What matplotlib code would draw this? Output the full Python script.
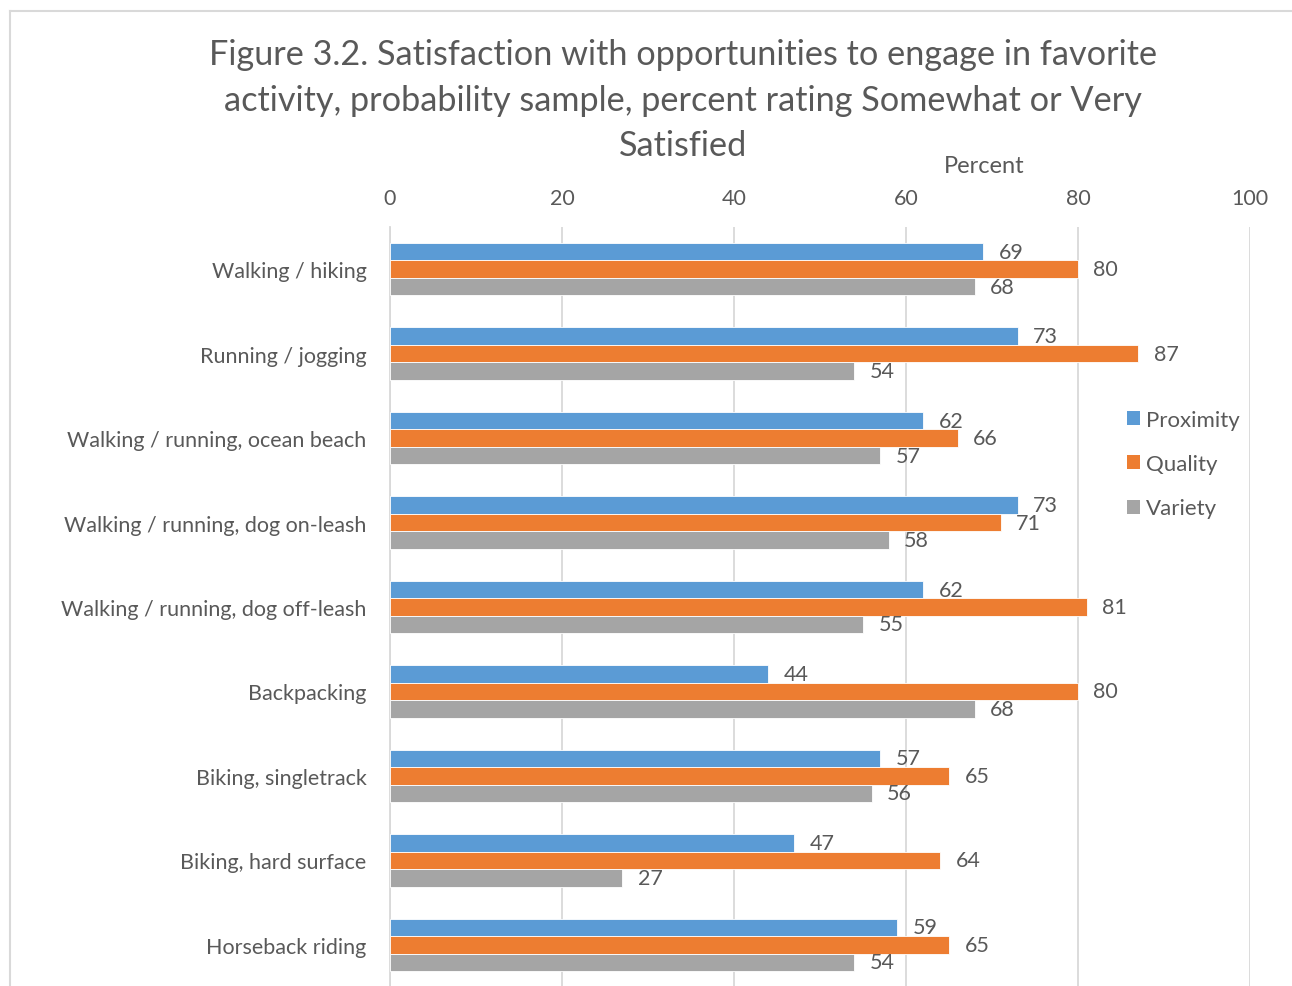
import numpy as np
import matplotlib.pyplot as plt
from matplotlib.lines import Line2D
from matplotlib.patches import Patch

plt.rcParams["font.family"] = ["Lato", "DejaVu Sans"]

# ── Dados ────────────────────────────────────────────────────────────────────
categorias = [
    "Walking / hiking",
    "Running / jogging",
    "Walking / running, ocean beach",
    "Walking / running, dog on-leash",
    "Walking / running, dog off-leash",
    "Backpacking",
    "Biking, singletrack",
    "Biking, hard surface",
    "Horseback riding",
]
proximity = [69, 73, 62, 73, 62, 44, 57, 47, 59]
quality = [80, 87, 66, 71, 81, 80, 65, 64, 65]
variety = [68, 54, 57, 58, 55, 68, 56, 27, 54]
series_nomes = ["Proximity", "Quality", "Variety"]
ticks_x = [0, 20, 40, 60, 80, 100]
titulo = [
    "Figure 3.2. Satisfaction with opportunities to engage in favorite",
    "activity, probability sample, percent rating Somewhat or Very",
    "Satisfied",
]

CORES = ["#5B9BD5", "#ED7D31", "#A5A5A5"]
TEXTO = "#595959"
GRADE = "#D9D9D9"

fig = plt.figure(figsize=(12.92, 9.87), dpi=100)
ax = fig.add_axes([390 / 1292, -1 / 987, 860 / 1292, 760 / 987])

y = np.arange(len(categorias))
h = 0.207
for i, (vals, cor) in enumerate(zip([proximity, quality, variety], CORES)):
    pos = y + (i - 1) * h
    ax.barh(pos, vals, height=h, color=cor, edgecolor="white", linewidth=0.6, zorder=3)
    for p, v in zip(pos, vals):
        ax.text(v + 1.8, p, f"{v}", va="center", ha="left", fontsize=15.5, color=TEXTO)

ax.set_xlim(0, 100)
ax.set_ylim(len(categorias) - 0.5, -0.5)
ax.set_xticks(ticks_x)
ax.set_yticks(y)
ax.set_yticklabels(categorias)
ax.xaxis.tick_top()
ax.tick_params(axis="both", length=0, labelsize=15.5, labelcolor=TEXTO)
ax.tick_params(axis="x", pad=14)
ax.tick_params(axis="y", pad=17)
ax.grid(axis="x", color=GRADE, linewidth=1.3, zorder=0)
for s in ["top", "right", "bottom"]:
    ax.spines[s].set_visible(False)
ax.spines["left"].set_color(GRADE)
ax.spines["left"].set_linewidth(1.3)

fig.text(984 / 1292, 1 - 167 / 987, "Percent", ha="center", va="center",
         fontsize=17, color=TEXTO)

# título em três linhas separadas
for ypix, linha in zip([55, 101, 146], titulo):
    fig.text(683 / 1292, 1 - ypix / 987, linha, ha="center", va="center",
             fontsize=24.7, color=TEXTO)

handles = [Patch(facecolor=c, edgecolor="none") for c in CORES]
fig.legend(handles, series_nomes, loc="center left",
           bbox_to_anchor=(1118 / 1292, 1 - 465 / 987), frameon=False,
           fontsize=16, labelcolor=TEXTO, handlelength=0.6, handleheight=0.6,
           handletextpad=0.25, labelspacing=1.1, borderaxespad=0)

# moldura do gráfico (cortada à direita e embaixo)
fig.add_artist(Line2D([10 / 1292, 10 / 1292], [0, 1 - 12 / 987],
                      transform=fig.transFigure, color=GRADE, linewidth=1.5))
fig.add_artist(Line2D([10 / 1292, 1], [1 - 12 / 987, 1 - 12 / 987],
                      transform=fig.transFigure, color=GRADE, linewidth=1.5))

plt.savefig("out.png", dpi=100)
plt.close()
